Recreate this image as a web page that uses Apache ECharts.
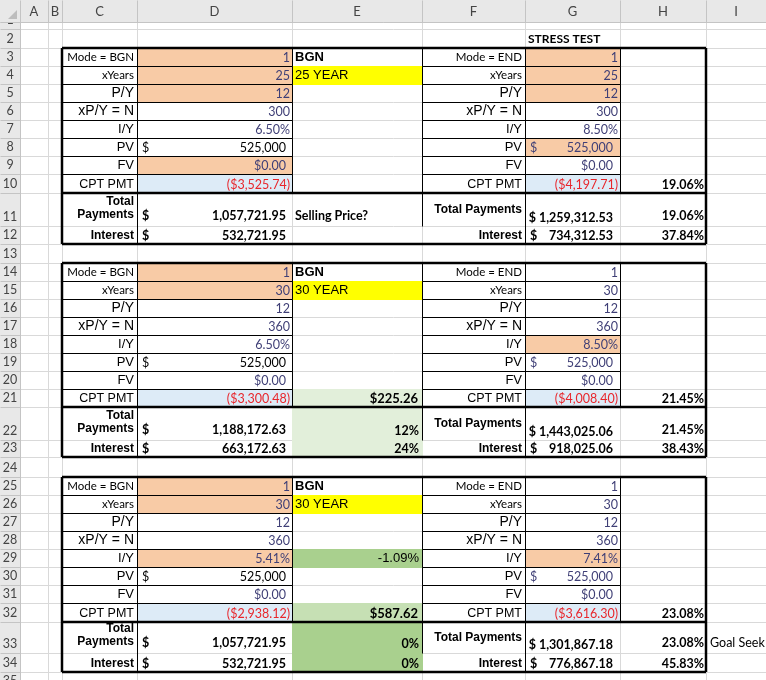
<!DOCTYPE html>
<html>
<head>
<meta charset="utf-8">
<title>Stress test</title>
<script src="https://cdn.jsdelivr.net/npm/echarts@6/dist/echarts.min.js"></script>
<style>
html, body { margin: 0; padding: 0; background: #fff; }
#sheet { width: 766px; height: 680px; }
</style>
</head>
<body>
<div id="sheet"></div>
<script type="text/javascript">
// ---- data ----
var colLetters = ['A', 'B', 'C', 'D', 'E', 'F', 'G', 'H', 'I'];
var blockRows = [3, 14, 25];
var leftLabels = ['Mode = BGN', 'xYears', 'P/Y', 'xP/Y = N', 'I/Y', 'PV', 'FV', 'CPT PMT'];
var rightLabels = ['Mode = END', 'xYears', 'P/Y', 'xP/Y = N', 'I/Y', 'PV', 'FV', 'CPT PMT'];
var blockTitles = ['25 YEAR', '30 YEAR', '30 YEAR'];
var modeFlag = [1, 1, 1];
var years = [25, 30, 30];
var periodsPerYear = [12, 12, 12];
var periods = [300, 360, 360];
var baseRate = [6.50, 6.50, 5.41];
var stressRate = [8.50, 8.50, 7.41];
var presentValue = [525000, 525000, 525000];
var futureValue = [0, 0, 0];
var basePmt = [-3525.74, -3300.48, -2938.12];
var stressPmt = [-4197.71, -4008.40, -3616.30];
var baseTotal = [1057721.95, 1188172.63, 1057721.95];
var baseInterest = [532721.95, 663172.63, 532721.95];
var stressTotal = [1259312.53, 1443025.06, 1301867.18];
var stressInterest = [734312.53, 918025.06, 776867.18];
var pmtChange = [19.06, 21.45, 23.08];
var totalChange = [19.06, 21.45, 23.08];
var interestChange = [37.84, 38.43, 45.83];
var pmtSaving = [null, 225.26, 587.62];
var rateGap = [null, null, -1.09];
var totalGap = [null, 12, 0];
var interestGap = [null, 24, 0];

// ---- layout / styles ----
var colWidths = [20, 28, 14, 75, 155, 130, 103, 95, 86, 60]; // first = row header
var rowHeights = [22, 7, 19,
  18, 18, 18, 18, 18, 18, 18, 19, 33, 18, 19,
  18, 18, 18, 18, 18, 18, 18, 18, 33, 17, 20,
  18, 18, 18, 18, 18, 18, 18, 19, 31, 19, 8];
var fillCells = {
  '#f8cba6': ['D3', 'D4', 'D5', 'D9', 'G3', 'G4', 'G5', 'G8', 'D14', 'D15', 'G18', 'D25', 'D26', 'D29', 'G29'],
  '#ddebf7': ['D10', 'G10', 'D21', 'G21', 'D32', 'G32'],
  '#ffff00': ['E4', 'E15', 'E26'],
  '#e2efda': ['E21', 'E22', 'E23'],
  '#a9d08e': ['E29', 'E33', 'E34'],
  '#c6e0b4': ['E32']
};
var labelSizes = [11.5, 11.5, 14, 14, 13, 13, 13, 12.5];
var labelFonts = ['c', 'c', 'a', 'a', 'a', 'a', 'a', 'a'];
var inputInk = '#3f3f76';
var redInk = '#e8262c';
var calibri = 'Lato, "Open Sans", sans-serif';
var arial = '"Liberation Sans", Arial, sans-serif';

var colStart = [0], rowStart = [0];
colWidths.forEach(function (w, i) { colStart.push(colStart[i] + w); });
rowHeights.forEach(function (h, i) { rowStart.push(rowStart[i] + h); });
function col(letter) { return colLetters.indexOf(letter) + 1; }
function L(c) { return colStart[c]; }
function R(c) { return colStart[c + 1]; }
function T(r) { return rowStart[r]; }
function B(r) { return rowStart[r + 1]; }
function font(size, fam, bold) { return (bold ? 'bold ' : '') + size + 'px ' + (fam === 'a' ? arial : calibri); }

function fmtInt(v) { return v.toLocaleString('en-US'); }
function fmtNum(v) { return Math.abs(v).toLocaleString('en-US', { minimumFractionDigits: 2, maximumFractionDigits: 2 }); }
function fmtMoney(v) { return v < 0 ? '($' + fmtNum(v) + ')' : '$' + fmtNum(v); }
function fmtPct(v) { return v.toFixed(2) + '%'; }

// ---- build shapes ----
var gridItems = [], fillItems = [], borderItems = [], textItems = [], headItems = [];

function line(list, x0, y0, x1, y1, color, lw) {
  list.push({ kind: 'line', x0: x0, y0: y0, x1: x1, y1: y1, color: color, lw: lw });
}
function rect(list, x0, y0, x1, y1, color) {
  list.push({ kind: 'rect', x0: x0, y0: y0, x1: x1, y1: y1, color: color });
}
// text in cell: where = 'l' | 'r' | 'c', dy = offset of text middle above cell bottom (or 'mid')
function put(letter, row, text, where, pad, fnt, color, dy) {
  var c = col(letter);
  var x = where === 'l' ? L(c) + pad : where === 'r' ? R(c) - pad : (L(c) + R(c)) / 2;
  var y = dy === 'mid' ? (T(row) + B(row)) / 2 : B(row) - (dy == null ? 8.5 : dy);
  textItems.push({ kind: 'text', x: x, y: y, text: String(text), align: where === 'l' ? 'left' : where === 'r' ? 'right' : 'center',
    font: fnt, color: color || '#000' });
}

// gridlines
for (var k = 1; k < colStart.length; k++) line(gridItems, colStart[k], rowStart[1], colStart[k], 680, '#d9d9d9', 1);
for (var r = 1; r < rowStart.length; r++) line(gridItems, colStart[1], rowStart[r], 766, rowStart[r], '#d9d9d9', 1);

// fills
Object.keys(fillCells).forEach(function (color) {
  fillCells[color].forEach(function (ref) {
    var c = col(ref[0]), rr = +ref.slice(1);
    rect(fillItems, L(c), T(rr), R(c) + 1, B(rr) + 1, color);
  });
});

var num = font(12.5, 'c', false), numB = font(12.5, 'c', true), lblB = font(12, 'a', true);
put('G', 2, 'STRESS TEST', 'l', 3, font(12, 'c', true), '#000');

blockRows.forEach(function (s, b) {
  // thin cell borders
  ['C', 'D', 'F', 'G'].forEach(function (letter) {
    var c = col(letter);
    for (var i = 0; i < 8; i++) {
      var rr = s + i;
      line(borderItems, L(c), T(rr), R(c), T(rr), '#000', 1);
      line(borderItems, L(c), B(rr), R(c), B(rr), '#000', 1);
      line(borderItems, L(c), T(rr), L(c), B(rr), '#000', 1);
      line(borderItems, R(c), T(rr), R(c), B(rr), '#000', 1);
    }
  });
  line(borderItems, L(col('D')), T(s + 8), L(col('D')), B(s + 9), '#000', 1);
  line(borderItems, L(col('G')), T(s + 8), L(col('G')), B(s + 9), '#000', 1);
  line(borderItems, L(col('F')), T(s + 8), L(col('F')), B(s + 8), '#000', 1);
  // thick frame
  var x0 = L(col('C')), x1 = R(col('H')), y0 = T(s), y1 = B(s + 9);
  line(borderItems, x0, y0, x1, y0, '#000', 2.5);
  line(borderItems, x0, y1, x1, y1, '#000', 2.5);
  line(borderItems, x0, y0, x0, y1, '#000', 2.5);
  line(borderItems, x1, y0, x1, y1, '#000', 2.5);
  line(borderItems, x0, B(s + 7), x1, B(s + 7), '#000', 2.5);

  // labels
  for (var i = 0; i < 8; i++) {
    put('C', s + i, leftLabels[i], 'r', 3, font(labelSizes[i], labelFonts[i], false), '#000');
    put('F', s + i, rightLabels[i], 'r', 3, font(labelSizes[i], labelFonts[i], false), '#000');
  }
  put('C', s + 8, 'Total', 'r', 3, lblB, '#000', 24);
  put('C', s + 8, 'Payments', 'r', 3, lblB, '#000', 11);
  put('C', s + 9, 'Interest', 'r', 3, lblB, '#000');
  put('F', s + 8, 'Total Payments', 'r', 3, lblB, '#000', 'mid');
  put('F', s + 9, 'Interest', 'r', 3, lblB, '#000');

  // base case column D
  put('D', s, modeFlag[b], 'r', 2, num, inputInk);
  put('D', s + 1, years[b], 'r', 2, num, inputInk);
  put('D', s + 2, periodsPerYear[b], 'r', 2, num, inputInk);
  put('D', s + 3, periods[b], 'r', 2, num, inputInk);
  put('D', s + 4, fmtPct(baseRate[b]), 'r', 2, num, inputInk);
  put('D', s + 5, '$', 'l', 5, num, '#000');
  put('D', s + 5, fmtInt(presentValue[b]), 'r', 6, num, '#000');
  put('D', s + 6, fmtMoney(futureValue[b]), 'r', 6, num, inputInk);
  put('D', s + 7, fmtMoney(basePmt[b]), 'r', 2, num, redInk);
  put('D', s + 8, '$', 'l', 5, numB, '#000', 10);
  put('D', s + 8, fmtNum(baseTotal[b]), 'r', 6, numB, '#000', 10);
  put('D', s + 9, '$', 'l', 5, numB, '#000');
  put('D', s + 9, fmtNum(baseInterest[b]), 'r', 6, numB, '#000');

  // column E notes
  put('E', s, 'BGN', 'l', 3, font(13, 'a', true), '#000');
  put('E', s + 1, blockTitles[b], 'l', 3, font(13, 'a', false), '#000');
  if (rateGap[b] != null) put('E', s + 4, fmtPct(rateGap[b]), 'r', 3, font(13, 'a', false), '#000');
  if (pmtSaving[b] != null) put('E', s + 7, fmtMoney(pmtSaving[b]), 'r', 4, font(13, 'c', true), '#000');
  if (totalGap[b] != null) put('E', s + 8, totalGap[b] + '%', 'r', 3, numB, '#000', 9);
  if (interestGap[b] != null) put('E', s + 9, interestGap[b] + '%', 'r', 3, numB, '#000');

  // stress case column G
  put('G', s, modeFlag[b], 'r', 2, num, inputInk);
  put('G', s + 1, years[b], 'r', 2, num, inputInk);
  put('G', s + 2, periodsPerYear[b], 'r', 2, num, inputInk);
  put('G', s + 3, periods[b], 'r', 2, num, inputInk);
  put('G', s + 4, fmtPct(stressRate[b]), 'r', 2, num, inputInk);
  put('G', s + 5, '$', 'l', 5, num, inputInk);
  put('G', s + 5, fmtInt(presentValue[b]), 'r', 7, num, inputInk);
  put('G', s + 6, fmtMoney(futureValue[b]), 'r', 7, num, inputInk);
  put('G', s + 7, fmtMoney(stressPmt[b]), 'r', 2, num, redInk);
  put('G', s + 8, '$ ' + fmtNum(stressTotal[b]), 'r', 7, numB, '#000', 8);
  put('G', s + 9, '$', 'l', 5, numB, '#000');
  put('G', s + 9, fmtNum(stressInterest[b]), 'r', 7, numB, '#000');

  // change column H
  put('H', s + 7, fmtPct(pmtChange[b]), 'r', 2, numB, '#000');
  put('H', s + 8, fmtPct(totalChange[b]), 'r', 2, numB, '#000', 10);
  put('H', s + 9, fmtPct(interestChange[b]), 'r', 2, numB, '#000');
});
put('E', blockRows[0] + 8, 'Selling Price?', 'l', 3, numB, '#000', 10);
put('I', blockRows[2] + 8, 'Goal Seek', 'l', 4, num, '#000', 10);

// headers
var headBg = '#e8e8e8', headLine = '#c4c4c4', headInk = '#444';
var lastRow = rowHeights.length - 1;
for (var r2 = 1; r2 <= lastRow; r2++) {
  var ly = r2 === lastRow ? T(r2) + 9 : B(r2) - 9;
  headItems.push({ kind: 'text', x: colWidths[0] / 2, y: ly, text: String(r2), align: 'center', font: font(12.5, 'c', false), color: headInk });
}
var rowHead = [], colHead = [];
rect(rowHead, 0, rowStart[1], colWidths[0], 680, headBg);
for (var r3 = 1; r3 < rowStart.length; r3++) line(rowHead, 0, rowStart[r3], colWidths[0], rowStart[r3], headLine, 1);
line(rowHead, colWidths[0], rowStart[1], colWidths[0], 680, headLine, 1);
rowHead = rowHead.concat(headItems);
rect(colHead, 0, 0, 766, rowStart[1], headBg);
for (var k2 = 1; k2 < colStart.length; k2++) line(colHead, colStart[k2], 0, colStart[k2], rowStart[1], headLine, 1);
line(colHead, 0, rowStart[1], 766, rowStart[1], headLine, 1);
colLetters.forEach(function (letter, i) {
  colHead.push({ kind: 'text', x: (L(i + 1) + R(i + 1)) / 2, y: rowStart[1] / 2 + 1, text: letter, align: 'center', font: font(13, 'c', false), color: headInk });
});
colHead.push({ kind: 'poly', pts: [[17, 19], [17, 10], [8, 19]], color: '#bdbdbd' });

// ---- chart ----
function renderShape(items) {
  return function (params, api) {
    var it = items[params.dataIndex];
    if (it.kind === 'rect') {
      var p0 = api.coord([it.x0, it.y0]), p1 = api.coord([it.x1, it.y1]);
      return { type: 'rect', shape: { x: p0[0], y: p0[1], width: p1[0] - p0[0], height: p1[1] - p0[1] }, style: { fill: it.color } };
    }
    if (it.kind === 'line') {
      var a = api.coord([it.x0, it.y0]), c = api.coord([it.x1, it.y1]);
      var off = it.lw === 1 ? 0.5 : 0;
      return { type: 'line', shape: { x1: a[0] + off, y1: a[1] + off, x2: c[0] + off, y2: c[1] + off },
        style: { stroke: it.color, lineWidth: it.lw } };
    }
    if (it.kind === 'poly') {
      return { type: 'polygon', shape: { points: it.pts.map(function (p) { return api.coord(p); }) }, style: { fill: it.color } };
    }
    var p = api.coord([it.x, it.y]);
    return { type: 'text', style: { text: it.text, x: p[0], y: p[1], fill: it.color, font: it.font, align: it.align, verticalAlign: 'middle' } };
  };
}
function layer(name, items) {
  return {
    name: name, type: 'custom', silent: true, clip: false,
    renderItem: renderShape(items),
    data: items.map(function (it) { return [it.x0 != null ? it.x0 : (it.x || 0), it.y0 != null ? it.y0 : (it.y || 0)]; })
  };
}

var myChart = echarts.init(document.getElementById('sheet'), null, { renderer: 'canvas' });
var option = {
  animation: false,
  backgroundColor: '#fff',
  grid: { left: 0, right: 0, top: 0, bottom: 0 },
  xAxis: { type: 'value', min: 0, max: 766, show: false },
  yAxis: { type: 'value', min: 0, max: 680, inverse: true, show: false },
  series: [
    layer('grid', gridItems),
    layer('fills', fillItems),
    layer('borders', borderItems),
    layer('texts', textItems),
    layer('rowHead', rowHead),
    layer('colHead', colHead)
  ]
};
myChart.setOption(option);
</script>
</body>
</html>
